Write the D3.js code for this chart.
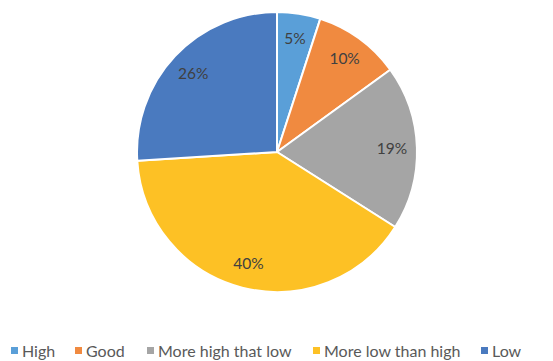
<!DOCTYPE html>
<html><head><meta charset="utf-8">
<script src="https://cdn.jsdelivr.net/npm/d3@7"></script>
<style>body{margin:0;background:#fff;overflow:hidden}svg{display:block}</style>
</head><body>
<script>
const categories = ["High", "Good", "More high that low", "More low than high", "Low"];
const values = [5, 10, 19, 40, 26];
const colors = ["#5A9FD8", "#F08A40", "#A5A5A5", "#FDC125", "#4A7ABF"];

const W = 553, H = 361;
const svg = d3.select("body").append("svg").attr("width", W).attr("height", H);
const cx = 277, cy = 152, R = 140;

const pie = d3.pie().sort(null).value(d => d.v);
const data = pie(categories.map((c, i) => ({c, v: values[i], col: colors[i]})));
const arc = d3.arc().innerRadius(0).outerRadius(R);
const labelArc = d3.arc().innerRadius(115).outerRadius(115);

const g = svg.append("g").attr("transform", `translate(${cx},${cy})`);
g.selectAll("path").data(data).join("path")
  .attr("d", arc).attr("fill", d => d.data.col)
  .attr("stroke", "#fff").attr("stroke-width", 2).attr("stroke-linejoin", "round");

g.selectAll("text").data(data).join("text")
  .attr("transform", d => `translate(${labelArc.centroid(d)})`)
  .attr("text-anchor", "middle").attr("dy", "0.35em")
  .attr("font-family", "Lato, 'Open Sans', sans-serif").attr("font-size", 15.5)
  .attr("fill", "#404040")
  .text(d => d.data.v + "%");

// legend
const legX = [11, 75, 147, 313, 481];
const lg = svg.append("g").attr("font-family", "Lato, 'Open Sans', sans-serif").attr("font-size", 16).attr("fill", "#595959");
categories.forEach((c, i) => {
  lg.append("rect").attr("x", legX[i]).attr("y", 347).attr("width", 7).attr("height", 7).attr("fill", colors[i]);
  lg.append("text").attr("x", legX[i] + 11).attr("y", 356.5).text(c);
});
</script>
</body></html>
